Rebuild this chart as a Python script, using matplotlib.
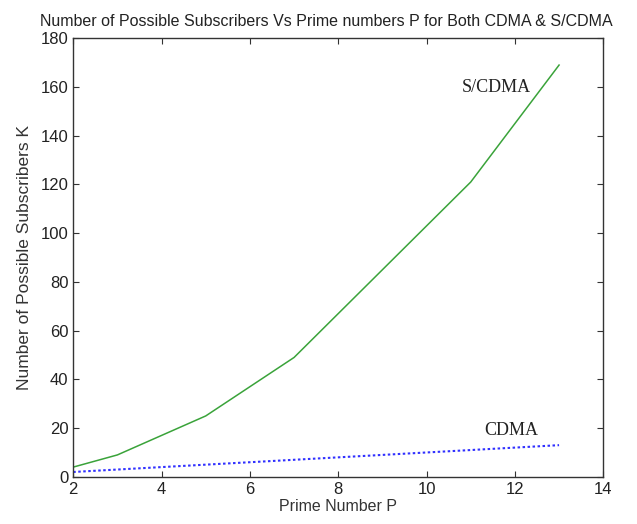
import matplotlib.pyplot as plt

# prime numbers and the subscriber counts for each scheme
primes = [2, 3, 5, 7, 11, 13]
scdma_users = [4, 9, 25, 49, 121, 169]
cdma_users = [2, 3, 5, 7, 11, 13]

plt.rcParams['font.family'] = ['Liberation Sans', 'DejaVu Sans']

fig = plt.figure(figsize=(6.37, 5.24), dpi=100)
ax = fig.add_axes([0.115, 0.09, 0.832, 0.837])

ax.plot(primes, scdma_users, color='#3aa33a', linewidth=1.1)
ax.plot(primes, cdma_users, color='#3030ff', linewidth=1.5, linestyle=(0, (1.2, 1.2)))

ax.set_xlim(2, 14)
ax.set_ylim(0, 180)
ax.set_xticks(range(2, 15, 2))
ax.set_yticks(range(0, 181, 20))
ax.tick_params(direction='in', length=4, labelsize=12, top=True, right=True,
               colors='#333333', labelcolor='#222222')
for s in ax.spines.values():
    s.set_linewidth(1.0)
    s.set_color('#333333')

ax.text(10.8, 158, 'S/CDMA', family='Liberation Serif', fontsize=13, color='#222222')
ax.text(11.3, 17, 'CDMA', family='Liberation Serif', fontsize=13, color='#222222')

ax.set_xlabel('Prime Number P', fontsize=11.5, labelpad=2, color='#333333')
ax.set_ylabel('Number of Possible Subscribers K', fontsize=12.5, labelpad=6, color='#333333')
ax.set_title('Number of Possible Subscribers Vs Prime numbers P for Both CDMA & S/CDMA',
             fontsize=11.5, pad=9, color='#222222', x=0.477)

fig.savefig('out.png', dpi=100)
